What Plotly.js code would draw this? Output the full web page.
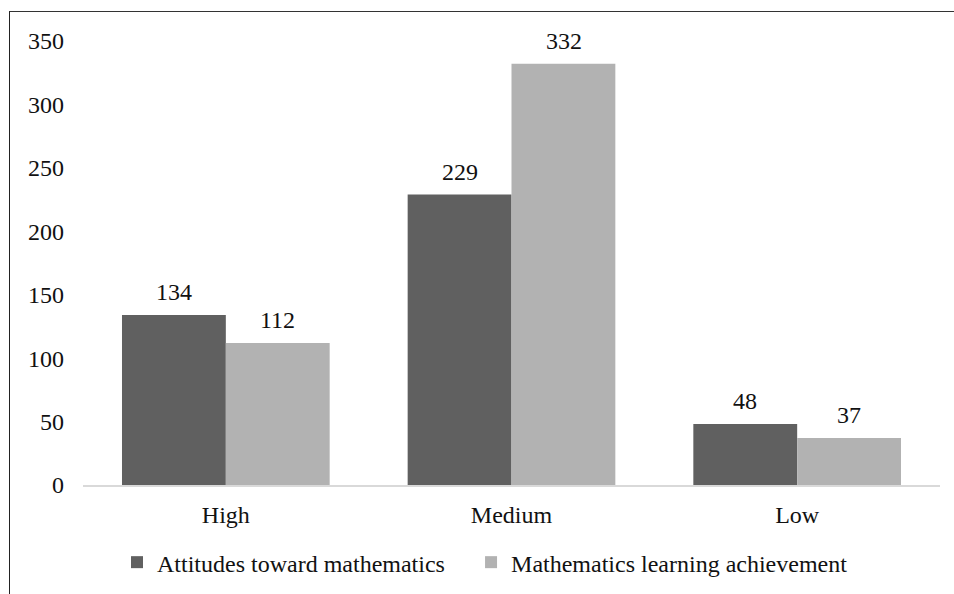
<!DOCTYPE html>
<html><head><meta charset="utf-8">
<script src="https://cdn.plot.ly/plotly-3.0.1.min.js"></script>
<style>
html,body{margin:0;padding:0;background:#fff;}
#wrap{position:relative;width:954px;height:594px;}
#chart{width:954px;height:594px;}
#frame{position:absolute;left:9px;top:11px;right:0;bottom:0;border-left:1.5px solid #222;border-top:1.5px solid #333;pointer-events:none;}
</style></head>
<body>
<div id="wrap"><div id="chart"></div><div id="frame"></div></div>
<script>
const categories = ["High", "Medium", "Low"];
const attitudes = [134, 229, 48];
const achievement = [112, 332, 37];
const seriesNames = ["Attitudes toward mathematics", "Mathematics learning achievement"];
const yTicks = [0, 50, 100, 150, 200, 250, 300, 350];

const font = {family: "Liberation Serif", size: 24, color: "#111"};
const traces = [
  {type: "bar", name: seriesNames[0], x: categories, y: attitudes, marker: {color: "#606060"}, legend: "legend"},
  {type: "bar", name: seriesNames[1], x: categories, y: achievement, marker: {color: "#b2b2b2"}, legend: "legend2"}
];
const annotations = [];
categories.forEach((c, i) => {
  annotations.push({x: c, y: attitudes[i], text: String(attitudes[i]), xref: "x", yref: "y", showarrow: false, xshift: -52, yanchor: "bottom", yshift: 8, font: font});
  annotations.push({x: c, y: achievement[i], text: String(achievement[i]), xref: "x", yref: "y", showarrow: false, xshift: 52, yanchor: "bottom", yshift: 8, font: font});
});
const layout = {
  width: 954, height: 594,
  margin: {l: 83, r: 14, t: 41, b: 109, autoexpand: false},
  paper_bgcolor: "#fff", plot_bgcolor: "#fff",
  font: font,
  barmode: "group", bargap: 0.273, bargroupgap: 0,
  showlegend: true,
  annotations: annotations,
  legend: {orientation: "h", x: 0.0397, xanchor: "left", y: -0.124, yanchor: "top", font: font},
  legend2: {orientation: "h", x: 0.4528, xanchor: "left", y: -0.124, yanchor: "top", font: font},
  xaxis: {showgrid: false, showline: true, linecolor: "#d9d9d9", linewidth: 1.5, ticks: "", tickfont: font, ticklabelstandoff: 8, fixedrange: true},
  yaxis: {range: [0, 350], tickvals: yTicks, showgrid: false, zeroline: false, showline: false, ticks: "", tickfont: font, ticklabelstandoff: 18, fixedrange: true}
};
Plotly.newPlot("chart", traces, layout, {displayModeBar: false, staticPlot: true});
</script>
</body></html>
